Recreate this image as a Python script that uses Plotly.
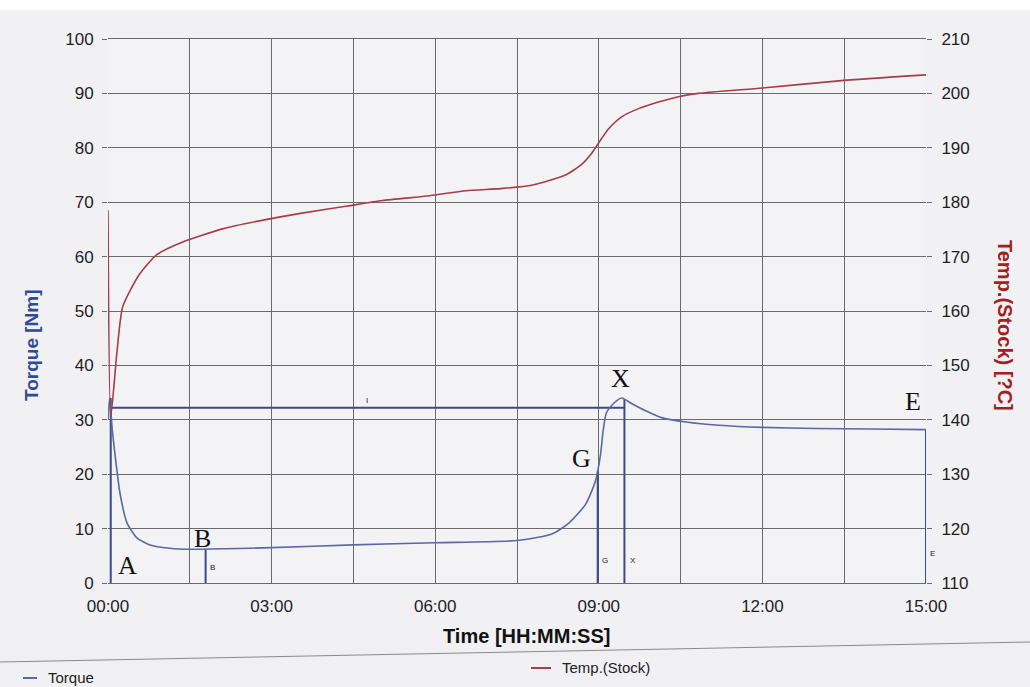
import plotly.graph_objects as go

# ---------------- data ----------------
# time in minutes
torque_time = [0.00, 0.03, 0.08, 0.13, 0.22, 0.35, 0.53, 0.77, 1.13, 1.55, 2.17, 3.00,
               4.50, 6.00, 7.50, 8.14, 8.45, 8.76, 8.94, 9.03, 9.08, 9.14, 9.27, 9.42,
               9.60, 9.85, 10.15, 10.60, 11.20, 12.00, 13.00, 14.00, 15.00]
torque_val = [30.0, 34.0, 28.0, 23.5, 16.5, 11.0, 8.3, 7.0, 6.4, 6.2, 6.3, 6.5,
              7.0, 7.4, 7.8, 9.0, 11.0, 14.5, 18.8, 23.5, 28.0, 31.3, 33.0, 34.0,
              33.0, 31.7, 30.4, 29.6, 29.0, 28.6, 28.4, 28.3, 28.2]

temp_time = [0.00, 0.05, 0.16, 0.27, 0.58, 0.90, 1.37, 2.10, 2.89, 3.50, 4.39, 5.03,
             5.90, 6.56, 7.20, 7.77, 8.39, 8.68, 8.87, 8.99, 9.18, 9.42, 9.73, 10.09,
             10.46, 10.82, 12.00, 13.40, 15.00]
temp_val = [178.5, 140.5, 152.0, 160.8, 166.8, 170.4, 172.7, 175.1, 176.8, 177.9, 179.3, 180.3,
            181.2, 182.1, 182.5, 183.1, 185.0, 186.9, 189.0, 190.8, 193.5, 195.7, 197.2, 198.4,
            199.4, 200.0, 201.0, 202.3, 203.4]

# evaluation markers: vertical lines from 0 up to the torque at that point
marker_names = ["A", "B", "G", "X", "E"]
marker_time = [0.05, 1.79, 8.98, 9.47, 15.00]
marker_torque = [34.0, 6.2, 20.5, 33.8, 28.2]

# horizontal reference line ("I") from A to X
ref_line_time = [0.05, 9.47]
ref_line_torque = [32.2, 32.2]

x_tick_vals = [0, 1.5, 3, 4.5, 6, 7.5, 9, 10.5, 12, 13.5, 15]
x_tick_text = ["00:00", "", "03:00", "", "06:00", "", "09:00", "", "12:00", "", "15:00"]
y_left_ticks = [0, 10, 20, 30, 40, 50, 60, 70, 80, 90, 100]
y_right_ticks = [110, 120, 130, 140, 150, 160, 170, 180, 190, 200, 210]

# ---------------- styling ----------------
W, H = 1030, 687
L, R, T, B = 108, 926, 39, 583
TORQUE_C = "#5a68a3"
MARK_C = "#3b4a88"
TEMP_C = "#a63c48"
GRID_C = "#6b6b6e"
FONT = "Liberation Sans"

def px(x):
    return (x - L) / (R - L)

def py(y):
    return (B - y) / (B - T)

fig = go.Figure()

# marker vertical lines
for name, t, v in zip(marker_names, marker_time, marker_torque):
    fig.add_trace(go.Scatter(x=[t, t], y=[0, v], mode="lines",
                             line=dict(color=MARK_C, width=2), showlegend=False,
                             hoverinfo="skip"))

fig.add_trace(go.Scatter(x=ref_line_time, y=ref_line_torque, mode="lines",
                         line=dict(color=MARK_C, width=2), showlegend=False,
                         hoverinfo="skip"))

fig.add_trace(go.Scatter(x=torque_time, y=torque_val, mode="lines", name="Torque",
                         line=dict(color=TORQUE_C, width=1.6, shape="spline", smoothing=0.6),
                         showlegend=False))

fig.add_trace(go.Scatter(x=temp_time, y=temp_val, mode="lines", name="Temp.(Stock)",
                         yaxis="y2",
                         line=dict(color=TEMP_C, width=1.6, shape="spline", smoothing=0.6),
                         showlegend=False))

TICKFONT = dict(size=17, family=FONT, color="#1e1e1e")
fig.update_layout(
    width=W, height=H,
    margin=dict(l=L, r=W - R, t=T, b=H - B),
    paper_bgcolor="#f1f1f4",
    plot_bgcolor="#f3f3f6",
    font=dict(family=FONT, size=16, color="#1e1e1e"),
    xaxis=dict(range=[0, 15], tickvals=x_tick_vals, ticktext=x_tick_text,
               showgrid=True, gridcolor=GRID_C, gridwidth=1, zeroline=False,
               showline=True, linecolor=GRID_C, mirror=True, ticks="",
               ticklabelstandoff=8, tickfont=TICKFONT),
    yaxis=dict(range=[0, 100], tickvals=y_left_ticks, showgrid=True,
               gridcolor=GRID_C, gridwidth=1, zeroline=False,
               ticks="outside", ticklen=5, tickcolor=GRID_C, ticklabelstandoff=5,
               tickfont=TICKFONT),
    yaxis2=dict(range=[110, 210], tickvals=y_right_ticks, overlaying="y",
                side="right", showgrid=False, zeroline=False,
                ticks="outside", ticklen=5, tickcolor=GRID_C, ticklabelstandoff=6,
                tickfont=TICKFONT),
    showlegend=False,
)

def note(text, x, y, size, color="#111", family=FONT, angle=0, xanchor="center"):
    return dict(text=text, xref="paper", yref="paper", x=px(x), y=py(y),
                xanchor=xanchor, yanchor="middle", textangle=angle, showarrow=False,
                font=dict(family=family, size=size, color=color))

ann = []
# big serif point labels
big_labels = [("A", 127, 565), ("B", 202, 538), ("G", 581, 458), ("X", 620, 378), ("E", 913, 401)]
for txt, x, y in big_labels:
    ann.append(note(txt, x, y, 26, "#111", "Liberation Serif"))
# small labels near the marker lines
small_labels = [("B", 212, 567), ("G", 605, 560), ("X", 633, 560), ("E", 933, 553), ("I", 367, 400)]
for txt, x, y in small_labels:
    ann.append(note(txt, x, y, 8, "#222"))

ann.append(note("<b>Torque [Nm]</b>", 31, 345, 19, "#2f4a98", angle=-90))
ann.append(note("<b>Temp.(Stock) [?C]</b>", 1005, 325, 20, "#a3201f", angle=90))
ann.append(note("<b>Time [HH:MM:SS]</b>", 526, 636, 20, "#111"))
# legend texts
ann.append(note("Torque", 46, 677, 15, "#222", xanchor="left"))
ann.append(note("Temp.(Stock)", 560, 667, 15, "#222", xanchor="left"))
fig.update_layout(annotations=ann)

shapes = [
    dict(type="line", xref="paper", yref="paper", x0=px(0), x1=px(1030), y0=py(662), y1=py(642),
         line=dict(color="#8a8a8e", width=1)),
    dict(type="line", xref="paper", yref="paper", x0=px(23), x1=px(37), y0=py(678), y1=py(678),
         line=dict(color=TORQUE_C, width=2)),
    dict(type="line", xref="paper", yref="paper", x0=px(531), x1=px(551), y0=py(668), y1=py(668),
         line=dict(color=TEMP_C, width=2)),
    dict(type="rect", xref="paper", yref="paper", x0=px(0), x1=px(1030), y0=py(0), y1=py(10),
         fillcolor="#ffffff", line=dict(width=0), layer="below"),
]
fig.update_layout(shapes=shapes)

fig.write_html("out.html")
